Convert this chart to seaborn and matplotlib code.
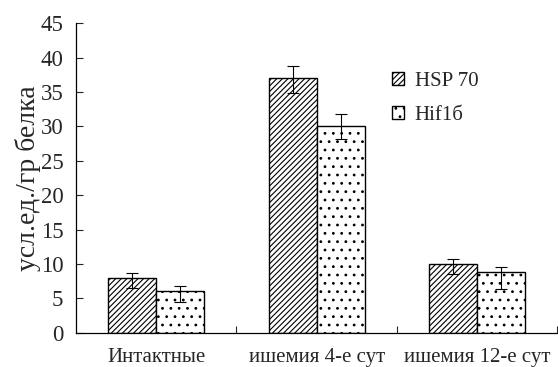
import pandas as pd
import matplotlib.pyplot as plt
import seaborn as sns

groups = ["Интактные", "ишемия 4-е сут", "ишемия 12-е сут"]
series = ["HSP 70", "Hif1б"]
hsp70 = [8.0, 37.0, 10.0]
hif = [6.1, 30.0, 8.8]
# asymmetric error bars as drawn in the figure (lower, upper)
hsp70_err_lo = [1.5, 2.1, 1.5]
hsp70_err_hi = [0.65, 1.75, 0.75]
hif_err_lo = [1.6, 1.9, 2.4]
hif_err_hi = [0.75, 1.85, 0.75]

df = pd.DataFrame({
    "group": groups * 2,
    "series": [series[0]] * 3 + [series[1]] * 3,
    "value": hsp70 + hif,
    "err_lo": hsp70_err_lo + hif_err_lo,
    "err_hi": hsp70_err_hi + hif_err_hi,
})

sns.set_style("white")
plt.rcParams["font.family"] = "serif"
plt.rcParams["font.serif"] = ["Liberation Serif", "DejaVu Serif"]
plt.rcParams["hatch.linewidth"] = 0.8

fig, ax = plt.subplots(figsize=(5.58, 3.67), dpi=100)
sns.barplot(data=df, x="group", y="value", hue="series", width=0.6,
            palette=["white", "white"], edgecolor="black", linewidth=1.0,
            errorbar=None, ax=ax, saturation=1)

hatches = ["//////", ".."]
for container, h, s in zip(ax.containers, hatches, series):
    sub = df[df["series"] == s]
    for bar, lo, hi in zip(container, sub["err_lo"], sub["err_hi"]):
        bar.set_hatch(h)
        x = bar.get_x() + bar.get_width() / 2
        ax.errorbar(x, bar.get_height(), yerr=[[lo], [hi]], color="black",
                    capsize=4.5, elinewidth=0.8, capthick=0.8)

leg = ax.legend(loc="center left", bbox_to_anchor=(0.617, 0.757), frameon=False,
                fontsize=15, handlelength=0.6, handleheight=0.6,
                handletextpad=0.5, labelspacing=0.7)
for p, h in zip(leg.get_patches(), hatches):
    p.set_hatch(h)

ax.set_ylim(0, 45)
ax.set_yticks(range(0, 46, 5))
ax.set_xlim(-0.5, 2.5)
ax.set_xticks([0.5, 1.5, 2.5])
ax.set_xticklabels([])
for i, g in enumerate(groups):
    ax.text(i, -3.6, g, ha="center", va="center", fontsize=15)
ax.set_xlabel("")
ax.set_ylabel("усл.ед./гр белка", fontsize=20, labelpad=0)
ax.tick_params(axis="y", direction="in", length=5, labelsize=16.5, left=True, pad=9)
ax.tick_params(axis="x", direction="in", length=5, bottom=True)
sns.despine(ax=ax, top=True, right=True)
for s in ["left", "bottom"]:
    ax.spines[s].set_color("black")
    ax.spines[s].set_linewidth(0.9)

fig.subplots_adjust(left=0.136, right=0.999, top=0.937, bottom=0.093)
fig.savefig("out.png", dpi=100)
